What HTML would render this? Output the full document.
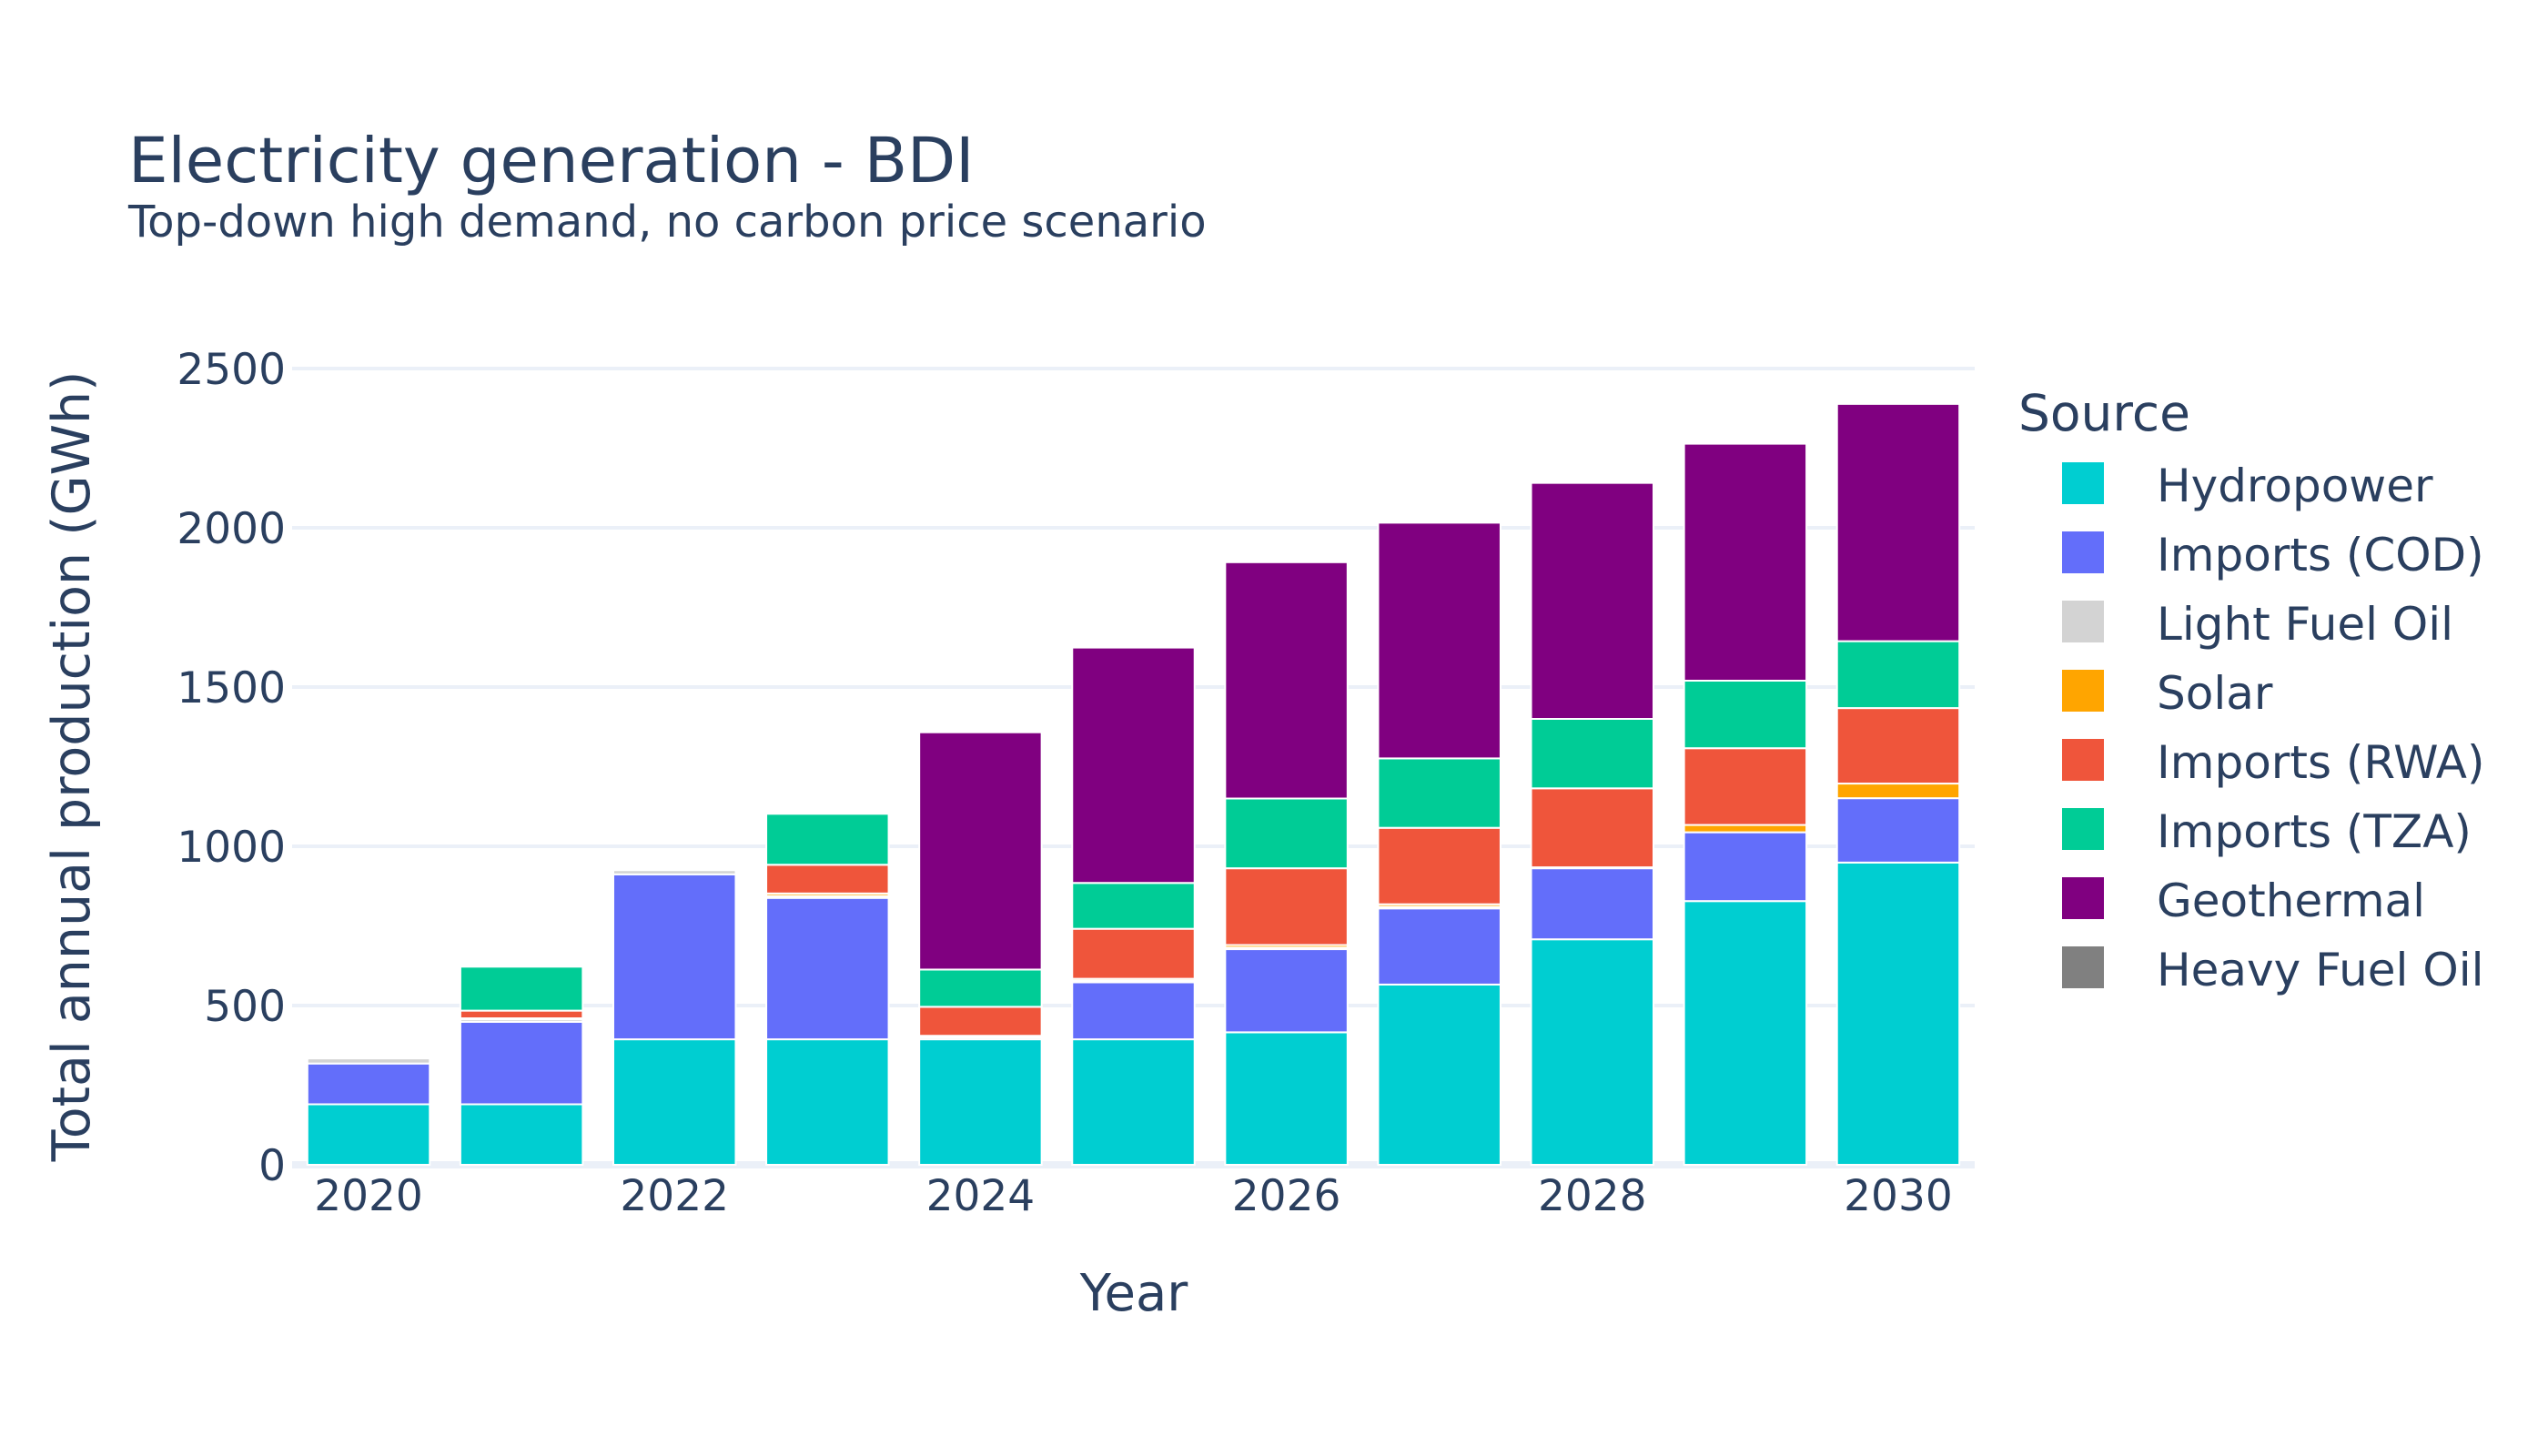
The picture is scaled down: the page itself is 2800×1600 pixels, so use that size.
<!DOCTYPE html>
<html><head><meta charset="utf-8"><style>
html,body{margin:0;padding:0;background:#fff}
svg{display:block;font-family:"DejaVu Sans","Liberation Sans",sans-serif;fill:#2a3f5f}
</style></head><body>
<svg id="chart" width="2800" height="1600" viewBox="0 0 2800 1600" xmlns="http://www.w3.org/2000/svg">
<rect width="2800" height="1600" fill="#fff"/>
<text x="141" y="200" font-size="69" fill="#2a3f5f">Electricity generation - BDI</text>
<text x="141" y="260" font-size="48" fill="#2a3f5f">Top-down high demand, no carbon price scenario</text>
<g id="grid"></g>
<g id="bars"></g>
<g id="yticks"></g>
<g id="xticks"></g>
<text transform="translate(98,842) rotate(-90)" text-anchor="middle" font-size="57">Total annual production (GWh)</text>
<text x="1246" y="1440" text-anchor="middle" font-size="56">Year</text>
<g id="legend">
<text x="2218" y="473" font-size="55">Source</text>
</g>
</svg>
<script>
const years = [2020,2021,2022,2023,2024,2025,2026,2027,2028,2029,2030];
const seriesNames = ["Hydropower","Imports (COD)","Light Fuel Oil","Solar","Imports (RWA)","Imports (TZA)","Geothermal","Heavy Fuel Oil"];
const seriesColors = ["#00ced1","#636efa","#d3d3d3","#ffa500","#ef553b","#00cc96","#800080","#808080"];
const hydropower = [190,190,394,394,394,394,416,566,708,828,949];
const importsCOD = [128,259,518,444,0,179,261,239,223,216,202];
const lightFuelOil = [16,8,13,6,6,5,5,5,3,0,0];
const solar = [0,3,0,8,5,6,8,8,0,23,46];
const importsRWA = [0,24,0,90,91,157,241,240,248,241,237];
const importsTZA = [0,138,0,160,117,144,219,218,218,212,210];
const geothermal = [0,0,0,0,745,739,742,740,741,744,745];
const heavyFuelOil = [0,0,0,0,0,0,0,0,0,0,0];
const yTicks = [0,500,1000,1500,2000,2500];
const xTicks = [2020,2022,2024,2026,2028,2030];

const series = [hydropower,importsCOD,lightFuelOil,solar,importsRWA,importsTZA,geothermal,heavyFuelOil];
const NS="http://www.w3.org/2000/svg";
const pl=321, pr=2170, y0px=1280, y2500px=405;
const yScale = v => y0px - v*(y0px-y2500px)/2500;
const step=(pr-pl)/11;
const xScale = yr => pl + (yr-2019.5)*step;
const bw = step*0.8;
function mk(tag, attrs, parent){const e=document.createElementNS(NS,tag);for(const k in attrs)e.setAttribute(k,attrs[k]);parent.appendChild(e);return e;}
const grid=document.getElementById('grid');
yTicks.forEach(t=>{
  const l=mk('line',{x1:pl,x2:pr,y1:yScale(t),y2:yScale(t),stroke:'#ebf0f8','stroke-width':t===0?8:4},grid);
  
  
  const tx=mk('text',{x:314,y:yScale(t)+17,'text-anchor':'end','font-size':47},document.getElementById('yticks'));
  tx.textContent=t;
  
  
});
xTicks.forEach(t=>{
  const tx=mk('text',{x:xScale(t),y:1330,'text-anchor':'middle','font-size':47},document.getElementById('xticks'));
  tx.textContent=t;
  
  
});
const bars=document.getElementById('bars');
years.forEach((yr,i)=>{
  let base=0;
  series.forEach((s,j)=>{
    const v=s[i];
    if(v>0){
      const r=mk('rect',{x:xScale(yr)-bw/2,y:yScale(base+v),width:bw,height:yScale(base)-yScale(base+v),fill:seriesColors[j],stroke:'#fff','stroke-width':2},bars);
      
      
    }
    base+=v;
  });
});
const lg=document.getElementById('legend');
seriesNames.forEach((n,j)=>{
  const y=508+j*76;
  const g=mk('g',{},lg);
  
  
  mk('rect',{x:2266,y:y,width:46,height:46,fill:seriesColors[j]},g);
  const t=mk('text',{x:2370,y:y+43,'font-size':50},g);
  t.textContent=n;
});
</script>
</body></html>
